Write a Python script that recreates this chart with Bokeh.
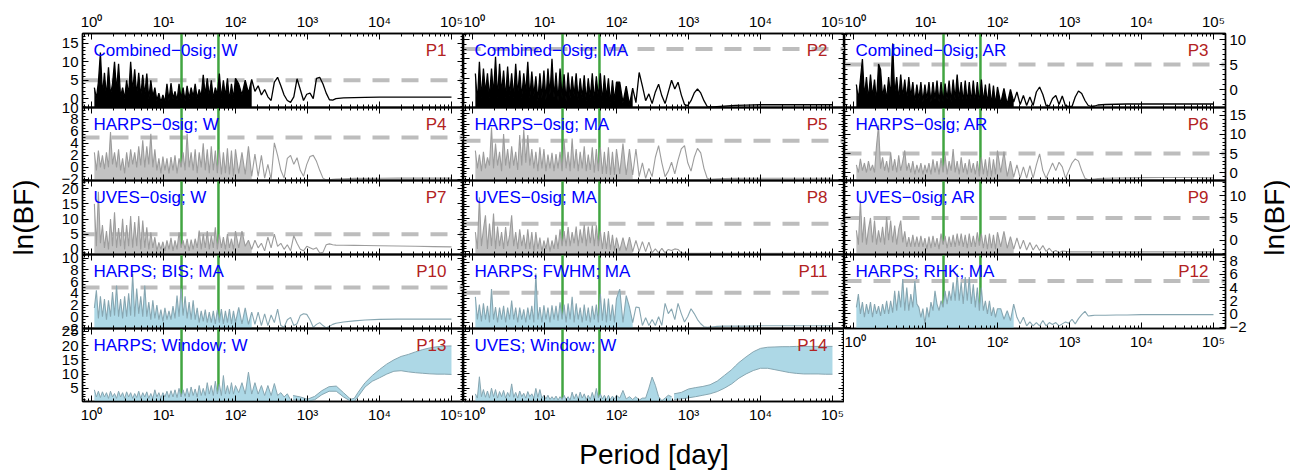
import numpy as np
from bokeh.plotting import figure
from bokeh.layouts import row, column
from bokeh.models import (Range1d, FixedTicker, LinearAxis, LogAxis, Span, Label,
                          CustomJSTickFormatter)
from bokeh.embed import file_html
from bokeh.resources import INLINE

FONT = "Liberation Sans"

# ------------------------------------------------------------------ data
period = [
    1.096, 1.169, 1.247, 1.330, 1.419, 1.514, 1.614, 1.722, 1.837, 1.959,
    2.089, 2.228, 2.377, 2.535, 2.704, 2.884, 3.076, 3.281, 3.499, 3.733,
    3.981, 4.246, 4.529, 4.831, 5.152, 5.495, 5.861, 6.252, 6.668, 7.112,
    7.586, 8.091, 8.630, 9.204, 9.817, 10.47, 11.17, 11.91, 12.71, 13.55,
    14.45, 15.42, 16.44, 17.54, 18.71, 19.95, 21.28, 22.70, 24.21, 25.82,
    27.54, 29.38, 31.33, 33.42, 35.65, 38.02, 40.55, 43.25, 46.13, 49.20,
    52.48, 55.98, 59.70, 63.68, 67.92, 72.44, 77.27, 82.41, 87.90, 93.76,
    100.0,
    110.9, 123.0, 136.5, 151.4, 167.9, 186.2, 206.5, 229.1, 254.1, 281.8,
    312.6, 346.7, 384.6, 426.6, 473.2, 524.8, 582.1, 645.7, 716.1, 794.3,
    881.0, 977.2, 1084, 1202, 1334, 1479, 1641, 1820, 2018, 2239,
    2483,
    3162, 4467, 6310, 10000, 17783, 31623, 56234, 100000,
]

lnbf_p1 = [
    3, 0, 4.5, 12.5, 1, 7, 0.5, 8.5, 1, 4,
    10, 2, 9.5, 0.5, 3, 0, 5, 1, 10, 2,
    8, 1, 7, 0.5, 6.5, 1, 6.8, 0, 5, 0.5,
    3, -0.5, 1.5, -1, 1, -1, 4, -0.5, 4.2, 0,
    2, -0.5, 4, 0, 3, -0.5, 3.5, 0, 3, 0.5,
    4, 0, 2.5, 0.5, 6.5, 1, 5.5, 0.5, 5, 0,
    3, 1, 6.8, 0, 5, 0.5, 5.5, -0.5, 4, 0,
    5.5,
    4, 1, 5, 1.5, 5.2, 2, 3.5, 1, 2.5, 0.5,
    -0.5, 4.5, 5.8, 3.5, 1, -0.5, -1, 0.5, 5.4, 2.5,
    -0.5, 1.2, 1.5, 0, 5.5, 5.8, 4, 1.5, -0.3, -0.4,
    0,
    0.2, 0.3, 0.35, 0.4, 0.4, 0.4, 0.4, 0.4,
]
lnbf_p2 = [
    2.5, -0.5, 3.7, 0, 3, 0.5, 2.5, 0, 3, 0.3,
    4.2, 0, 3.5, 0.5, 2.8, 0, 3.2, 0.2, 2.5, 0,
    3.5, 0.3, 2.8, 0, 2.5, 0.5, 3.7, 0, 2.7, 0.2,
    2.2, -0.3, 2.5, 0, 2.8, -0.2, 3, 0.3, 4, 0,
    2.6, -0.3, 3, 0, 2.4, -0.3, 2.6, 0, 2.2, 0.2,
    2.5, -0.2, 2, 0, 2.3, -0.3, 2, 0, 2.5, -0.3,
    2.2, 0, 2.5, -0.4, 2.3, 0, 2, -0.5, 1.8, -0.3,
    1.6,
    1.6, -0.5, 1.2, -0.7, 1.0, -0.5, 2.6, 1.2, -0.3, 0.4,
    -0.6, 0.6, 1.4, 0.2, -0.6, 0.6, 1.8, 0.9, 1.6, 0.3,
    -0.7, -0.8, -0.3, 0.5, 0.9, 0.5, -0.3, -0.9, -0.95, -0.95,
    -0.9,
    -0.85, -0.78, -0.75, -0.72, -0.72, -0.72, -0.72, -0.72,
]
lnbf_p3 = [
    1, -2, 2, 6.1, -1.5, 2.5, -2, 3, -1.5, 2,
    -2.5, 5.1, 4, -1.5, 1, -2, 2.5, -1.5, 9.2, -1,
    2.5, -2, 3, -1.5, 2, -2, 2.5, -1.5, 1.5, -2.5,
    1, -2, 1.5, -2.5, 1, -2, 1.5, -2.5, 1.5, -2,
    1.8, -2.5, 1.5, -2.5, 1.2, -2, 1.8, -2.5, 2, -2,
    3, -2, 1.5, -2.5, 1.8, -2.5, 1.5, -2.5, 1.8, -2.5,
    1.5, -2.8, 2, -2.5, 1, -2.8, 1.2, -3, 0.8, -3,
    0.5,
    -2.8, 0.2, -3, 0, -2.5, -0.5, -3, -1.2, -3.2, -1.5,
    -3.2, -0.5, 0.5, -1, -3.2, -3.3, -1.8, -1.2, -3.0, -1.3,
    -3.3, -3.4, -3.4, -1.5, -0.3, -0.8, -2.2, -3.2, -3.4, -3.3,
    -3.1,
    -3.0, -2.95, -2.9, -2.9, -2.9, -2.9, -2.9, -2.9,
]
lnbf_p4 = [
    2.5, -0.5, 2.8, 0, 2, -0.3, 2.5, 0, 5.9, 0.5,
    2.5, 0, 3, -0.5, 1.5, -1, 2.5, 0, 3, 0.5,
    2.5, 0, 3.5, 0.3, 4.5, 0, 3.5, 0.5, 5.6, 0,
    3, -0.5, 1.5, -1, 1.8, -0.5, 1.5, -1, 1.7, -0.5,
    2, -1, 1.5, 0, 2.5, -0.5, 5.6, 0, 2.5, -0.5,
    3, -1, 2.5, 0, 4, -0.5, 3, -1, 3.5, -0.5,
    2.8, -1, 3, -1.2, 2.5, -1, 3.2, -1.2, 2.8, -1.5,
    3,
    -1, 2.5, -1.2, 3.5, -1.5, 2.2, -1.5, 2, -1.8, 0.5,
    -2, 4.1, 2, -0.5, -1.8, 1.5, 2, 0.5, 1.6, -0.5,
    -1.5, 0.5, 1.8, 2.0, 1, -0.5, -1.8, -2.1, -2.1, -2.0,
    -1.95,
    -1.9, -1.85, -1.85, -1.82, -1.8, -1.8, -1.8, -1.8,
]
lnbf_p5 = [
    3.2, 0, 2.5, -0.5, 3, 0, 2, 0.5, 7.4, 0,
    4.5, 0.5, 3, -0.5, 6.2, 0.5, 3.5, 0, 4, 0.5,
    3, -0.3, 6, 0.5, 7, 1, 6, 0.5, 3.5, 0,
    3, -0.5, 3.8, 0, 3.5, -0.5, 2.5, 0, 2.8, -0.5,
    2.6, 0, 3, -0.5, 5, 0, 3, -0.5, 5.4, 0,
    3.5, -0.5, 3, 0, 4, -0.5, 2.5, -0.3, 3.8, -0.8,
    3.5, -0.5, 3.8, -1, 3, -1, 3.8, -1.2, 3, -1.2,
    3.5,
    -1, 4.5, -1.2, 3.5, -1.2, 3.5, -1.5, 1, -1.8, 0,
    -1.5, 2, 4.1, 1, -1.5, -0.5, 1.1, -1, 1.5, 3.5,
    4.1, 1, -0.5, 2, 3.6, 2.8, 0, -1.8, -2.0, -1.95,
    -1.9,
    -1.85, -1.82, -1.8, -1.8, -1.8, -1.8, -1.8, -1.8,
]
lnbf_p6 = [
    2, 0, 3.6, 0.5, 2.5, 0, 3, 0.5, 2, 0,
    7.1, 12.4, 1, 4, 0.5, 3, 0, 5.3, 0.5, 3.5,
    0, 4.5, 0.5, 3, 5.8, 0.5, 2.5, 0, 3, -0.5,
    2, 0, 2.5, -0.5, 2, 0, 2.5, -0.5, 3.5, 0,
    3, -0.5, 3.8, 0, 4.5, -0.5, 3, 0.5, 6.2, 0,
    3, -0.5, 4, 0, 2.5, -0.5, 3.5, 0, 2.5, -0.5,
    3, -1, 4, -0.5, 3.5, -1, 4, -1, 3.5, -0.5,
    5.8,
    0, 5.5, -1, 3, -1.2, 2, -1.5, 1.5, -1.5, 1.8,
    -1.5, 2, 4.9, 0.5, -1.5, 0.5, 2.5, 0.5, 2.7, 1.5,
    -1.5, 0.5, 2.5, 3.6, 3, 0.5, -1.5, -1.9, -1.8, -1.7,
    -1.6,
    -1.5, -1.45, -1.4, -1.35, -1.3, -1.3, -1.3, -1.4,
]
lnbf_p7 = [
    15, 1, 19, 2, 8, 0.5, 6, 0, 10, 1,
    12.2, 0.5, 7, 1, 10.1, 0, 8, 1, 11, 0.5,
    9, 1, 11, 0, 9.5, 0.5, 7.3, 0, 5.6, 0.5,
    4, -0.5, 2.3, 0, 2.5, -0.5, 3, 0, 3.8, -0.5,
    3, 0, 5.6, 0.5, 3, 0, 3.5, -0.5, 3.2, 0,
    3.5, 0.5, 6.2, 0, 5, 0.5, 6, 0, 4.5, 0.5,
    7.3, 0, 5, 0.5, 4, 0, 5, 0.5, 3.5, 0,
    6,
    0.5, 6, 1, 3, 0, 3, 0.5, 2, -0.5, 4,
    0.5, 5, 1, 2, 0, 1.5, -0.5, 4.5, 2, 0,
    -0.5, 1, 0.5, 0, 0.5, -1.2, -1.0, 1.5, 1.8, 1.5,
    1.4,
    1.35, 1.3, 1.25, 1.2, 1.1, 1.0, 0.9, 0.8,
]
lnbf_p8 = [
    3.5, 0.5, 9.7, 1, 4, 6.5, 0.5, 5, 1, 6.8,
    0.5, 4.5, 1, 3.5, 0.5, 4.4, 1, 3, 6.5, 1,
    3.5, 0.5, 4, 1, 3, 0.5, 4, 0.5, 3.5, 0,
    3.5, 0.5, 2.5, 0, 2, 0.5, 2.5, 0, 2, 0.5,
    3, 0.5, 4, 1, 3.7, 1, 4.4, 1, 3.5, 1.5,
    4.5, 1, 4, 1.5, 4.8, 1, 4.5, 1.5, 4.7, 1,
    4.7, 1, 3.7, 0.5, 3.5, 0.5, 3.7, 0.3, 3, 0.2,
    2.5,
    0.2, 2.5, 0.2, 2.6, 0, 2, 0, 1.8, 0, 1.7,
    -0.2, 0.5, -0.2, 0.6, -0.2, 0.4, 0.2, 0.5, 0.4, -0.2,
    -0.3, -0.3, -0.3, -0.3, -0.3, -0.3, -0.3, -0.3, -0.3, -0.3,
    -0.3,
    -0.3, -0.3, -0.3, -0.3, -0.3, -0.3, -0.3, -0.3,
]
lnbf_p9 = [
    2.2, -1, 8.9, -0.5, 5.2, -1, 2.5, 5, -0.5, 4.4,
    -1, 2.2, -0.5, 3, -1, 5.2, 0, 4.4, -0.5, 3.3,
    -1, 2.5, 4.4, -0.5, 2, -1.5, 0.7, -1.5, 1.2, -1.5,
    0.8, -1.5, 1, -1.5, 0.5, -2, 0.8, -1.8, 1, -1.5,
    0.5, -2, 1.5, -1, 1, -1.8, 0.8, -1.5, 1.2, -1.5,
    1.5, -1.2, 1.5, -1.5, 1.2, -1.8, 1.5, -1.5, 1, -1.5,
    1.8, -1.2, 1.5, -1.8, 1.2, -2, 1.5, -1.8, 1.2, -2,
    1.8,
    -1.5, 2.0, -1.8, 0.8, -2, 0.5, -2, 0, -2.2, -0.5,
    -2.2, -1, -2.3, -1.2, -2.5, -1.8, -2.7, -2.3, -2.8, -2.4,
    -2.5, -2.6, -2.6, -2.6, -2.6, -2.6, -2.6, -2.6, -2.6, -2.6,
    -2.6,
    -2.6, -2.6, -2.6, -2.6, -2.6, -2.6, -2.6, -2.6,
]
lnbf_p10 = [
    1.5, 4.5, -0.3, 3.5, 0, 3, -0.5, 2.8, 0, 4.2,
    0.2, 5.3, 0, 3, -0.3, 3.5, 0, 4, 0.2, 7.3,
    0, 4.8, 0.5, 3.5, 0, 5.3, 0, 2.5, -0.5, 2.8,
    -0.3, 2, -0.5, 1.2, -0.8, 1.5, -0.5, 1, -0.5, 1.8,
    -0.3, 3.6, 0, 4.8, 0.2, 3.5, -0.3, 2.5, -0.5, 2.8,
    -0.5, 1.5, -1, 1, -0.8, 1.2, -1, 0.8, -1, 1,
    -1.2, 1.2, -1, 1.3, -1.2, 1, -1, 1.3, -1.2, 1,
    -1,
    1.6, -1.2, 1.5, -1.3, 0.8, -1.3, 0.8, -1.5, 0.5, -1.5,
    0.3, -1, 1.3, -1.5, -1.8, -0.5, -0.1, -1.5, -1.2, 0.2,
    0.5, 0.4, -0.5, -1.8, -1.3, -1.0, -1.5, -1.9, -1.6, -1.3,
    -1.1,
    -0.9, -0.7, -0.55, -0.45, -0.4, -0.4, -0.4, -0.4,
]
lnbf_p11 = [
    4.3, 0.5, 3, 0.2, 3.2, 0.5, 2.8, 0, 5.6, 0.5,
    2.6, 0, 2.5, 0.5, 2.8, 0, 2.5, 0.5, 3.7, 0.5,
    2.5, 0, 2.5, 0.5, 2.2, 0, 2.5, 0.5, 2.8, 0,
    8.2, 0.5, 2.6, 0, 2.9, 0.5, 2.5, 0, 2.9, 0.5,
    2.8, 0.3, 3.4, 0.5, 3, 0, 3.2, 0.5, 4.3, 0,
    3.2, 0.5, 2.5, 0, 3, 0.3, 2.5, 0, 2.8, 0.5,
    3, 0, 4.8, 0.3, 4, 0, 4, 0.3, 3, 0,
    4,
    5.6, 0, 4.5, 2.6, 0, 2.6, 2.5, -0.5, 0.8, -0.5,
    0.5, -0.5, 1, -0.5, 3.2, 1.5, 2.3, 0.5, 3.2, 1.5,
    0.1, 1.0, 2.3, 1.5, 0.5, -0.2, -0.7, -0.8, -0.75, -0.7,
    -0.65,
    -0.6, -0.6, -0.6, -0.55, -0.55, -0.55, -0.55, -0.55,
]
lnbf_p12 = [
    1, 3, 0, 1.8, -0.5, 1.5, 0, 1.8, -0.5, 1.5,
    0, 1.2, -0.3, 1.5, 0, 2, 0, 2, 0.2, 3.5,
    0.5, 3.5, 1, 5.3, 0.5, 4, 0.5, 3, 1, 5,
    1.5, 1, -0.5, 0.8, -1.5, 1, -0.5, 1.8, 0.5, 3.5,
    1.5, 0.5, 2, 1, 3.5, 1.5, 3.5, 2, 4.8, 2,
    6.1, 2, 4.8, 1.5, 5.6, 2, 5.6, 1.5, 4.5, 1,
    4, 0.5, 4, 0.5, 2, 0, 2, -0.3, 1, -0.5,
    0.8,
    0.8, -0.8, 0.5, -1.0, 1.5, -0.5, -1.5, -0.5, -1.8, -1.2,
    -1.8, -1.3, -1.8, -1.0, -1.8, -1.3, -1.6, -1.3, -1.8, -1.5,
    -1.2, -1.4, -0.8, -1.5, -0.7, -0.1, 0.4, -0.3, -0.25, -0.2,
    -0.2,
    -0.2, -0.15, -0.15, -0.1, -0.1, -0.1, -0.1, -0.1,
]
# window functions: spiky part (first 88 periods) + dense band at long periods
lnbf_p13 = [
    4.5, 2, 4, 1.8, 3.8, 2, 3.5, 1.5, 4, 2,
    3.2, 1.5, 4, 2, 3.5, 1.5, 3.8, 2, 3.5, 1.5,
    3.2, 1.8, 4, 1.5, 3.5, 2, 3.8, 1.5, 3.2, 1.5,
    4.5, 2, 3.5, 1.5, 3.5, 2, 4, 1.8, 4.2, 2,
    4.5, 1.8, 5, 2, 4.5, 2.2, 5, 2, 5.5, 2.5,
    4.8, 2, 6, 2.5, 5, 2.5, 7, 3, 6, 2.5,
    7.5, 3, 6.5, 2.5, 9.5, 3, 6, 3, 7, 3,
    6,
    3.5, 7, 3, 10.7, 3, 7, 3, 6, 2.5, 6,
    2.5, 6.7, 2.5, 3.5, 2, 3.1, 1,
]
lnbf_p14 = [
    3, 1.5, 9, 2, 4.5, 1.8, 4, 1.5, 5, 2,
    4.5, 1.5, 3.8, 2, 4.2, 1.5, 3.5, 2, 6.5, 1.8,
    3.5, 1.5, 4, 2, 3.2, 1.5, 3.8, 2, 3, 1.5,
    4.9, 1.8, 4.5, 1.5, 2.5, 1.2, 2.5, 1, 2, 1,
    2.2, 0.8, 2, 1, 2.5, 1, 2, 0.8, 3.6, 1.2,
    3, 1, 3.6, 1.5, 3, 1, 2.5, 1, 3.5, 1.2,
    4.9, 1.5, 3, 1.2, 2.5, 1, 2.5, 1, 2.2, 1.2,
    2.5,
    1.5, 4.2, 1.2, 2, 1, 2, 0.8, 1.5, 1.5, 5,
    8.9, 6, 2, 0.6, 1.5, 2.5, 2,
]
band_period = [631.0, 794.3, 1000, 1259, 1585, 1995, 2512, 3162, 3981, 4467,
               5012, 6310, 7943, 10000, 12589, 15849, 19953, 25119, 31623, 39811,
               50119, 63096, 79433, 100000]
band_lo_p13 = [1.0, 0.8, 0.5, 1.0, 2.8, 4.0, 4.0, 2.0, 0.5, 0.5,
               2.0, 5.5, 7.5, 8.7, 10.0, 11.0, 11.2, 10.8, 10.5, 10.3,
               10.1, 10.0, 10.0, 9.9]
band_hi_p13 = [2.5, 2.0, 1.2, 2.2, 4.2, 5.6, 5.8, 3.5, 1.2, 1.5,
               3.5, 7.0, 9.5, 11.6, 13.5, 15.0, 16.2, 16.9, 17.8, 18.6,
               19.2, 19.6, 19.8, 19.9]
band_lo_p14 = [1.0, 1.2, 1.6, 2.0, 2.5, 3.0, 3.8, 5.0, 6.5, 7.5,
               8.5, 10.0, 11.2, 12.0, 12.0, 11.5, 11.0, 10.5, 10.2, 10.0,
               10.0, 10.0, 9.9, 9.9]
band_hi_p14 = [3.0, 3.5, 4.7, 5.2, 5.6, 6.2, 7.5, 9.5, 11.5, 12.8,
               14.0, 16.0, 17.8, 19.0, 19.4, 19.5, 19.6, 19.6, 19.7, 19.7,
               19.7, 19.7, 19.7, 19.7]

signal_periods = [17.8, 58.0]
threshold = 5
x_ticks = [1, 10, 100, 1000, 10000, 100000]
x_tick_labels = ["10\u2070", "10\u00b9", "10\u00b2", "10\u00b3", "10\u2074", "10\u2075"]

# name, tag, values, y-limits, y major ticks, y minor step, colour kind, band
specs = [
    ("Combined\u22120sig; W", "P1", lnbf_p1, (-2.4, 17.7), [0, 5, 10, 15], 1, "black", None),
    ("Combined\u22120sig; MA", "P2", lnbf_p2, (-1.0, 6.6), [0, 2, 4, 6], 0.5, "black", None),
    ("Combined\u22120sig; AR", "P3", lnbf_p3, (-3.6, 11.2), [0, 5, 10], 1, "black", None),
    ("HARPS\u22120sig; W", "P4", lnbf_p4, (-2.2, 10.0), [-2, 0, 2, 4, 6, 8, 10], 0.5, "gray", None),
    ("HARPS\u22120sig; MA", "P5", lnbf_p5, (-2.2, 11.0), [-2, 0, 2, 4, 6, 8, 10], 0.5, "gray", None),
    ("HARPS\u22120sig; AR", "P6", lnbf_p6, (-2.1, 17.1), [0, 5, 10, 15], 1, "gray", None),
    ("UVES\u22120sig; W", "P7", lnbf_p7, (-1.7, 22.7), [0, 5, 10, 15, 20], 1, "gray", None),
    ("UVES\u22120sig; MA", "P8", lnbf_p8, (-0.5, 12.7), [0, 2, 4, 6, 8, 10, 12], 0.5, "gray", None),
    ("UVES\u22120sig; AR", "P9", lnbf_p9, (-3.2, 13.4), [0, 5, 10], 1, "gray", None),
    ("HARPS; BIS; MA", "P10", lnbf_p10, (-2.0, 10.6), [-2, 0, 2, 4, 6, 8, 10], 0.5, "blue", None),
    ("HARPS; FWHM; MA", "P11", lnbf_p11, (-1.0, 11.4), [0, 2, 4, 6, 8, 10], 0.5, "blue", None),
    ("HARPS; RHK; MA", "P12", lnbf_p12, (-2.2, 9.0), [-2, 0, 2, 4, 6, 8], 0.5, "blue", None),
    ("HARPS; Window; W", "P13", lnbf_p13, (0.4, 26.0), [5, 10, 15, 20, 25], 1, "window",
     (band_lo_p13, band_hi_p13)),
    ("UVES; Window; W", "P14", lnbf_p14, (0.3, 26.0), [5, 10, 15, 20, 25], 1, "window",
     (band_lo_p14, band_hi_p14)),
]

STYLE = {
    "black": ("black", "black", 1.3),
    "gray": ("#c2c2c2", "#9c9c9c", 1.1),
    "blue": ("#add8e6", "#87a6b1", 1.1),
    "window": ("#add8e6", "#87a6b1", 1.0),
}

FRAME_W = 381
FRAME_H = [74, 73, 74, 74, 73]
X_LO, X_HI = 0.75, 146900.0
PAD = 9

x_minor = [m * d for d in [0.1, 1, 10, 100, 1000, 10000] for m in range(2, 10)
           if X_LO <= m * d <= X_HI]

x_fmt_code = """
for (let i = 0; i < tick_vals.length; i++) {
  if (Math.abs(Math.log10(tick) - Math.log10(tick_vals[i])) < 1e-6) { return tick_text[i]; }
}
return '';
"""
y_fmt_code = "return tick < 0 ? '\u2212' + String(Math.abs(tick)) : String(tick);"


def style_axis(ax, show, ticker, formatter):
    ax.ticker = ticker
    ax.formatter = formatter
    ax.axis_line_color = "black"
    ax.axis_line_width = 1.4
    ax.major_tick_line_color = "black"
    ax.minor_tick_line_color = "black"
    ax.major_tick_line_width = 1
    ax.minor_tick_line_width = 1
    ax.major_tick_in = 6
    ax.major_tick_out = 0
    ax.minor_tick_in = 3
    ax.minor_tick_out = 0
    ax.major_label_text_font = FONT
    if show:
        ax.major_label_text_color = "black"
        ax.major_label_text_font_size = "15px"
        ax.major_label_standoff = 4
    else:
        ax.major_label_text_color = None
        ax.major_label_text_font_size = "0px"
        ax.major_label_standoff = 0


def style_axis_label(ax, text, standoff):
    ax.axis_label = text
    ax.axis_label_text_font = FONT
    ax.axis_label_text_font_size = "28px"
    ax.axis_label_text_font_style = "normal"
    ax.axis_label_text_color = "black"
    ax.axis_label_standoff = standoff


def x_formatter():
    return CustomJSTickFormatter(args=dict(tick_vals=x_ticks, tick_text=x_tick_labels),
                                 code=x_fmt_code)


figs = {}
for i, (name, tag, vals, ylim, yt, ystep, kind, band) in enumerate(specs):
    r, c = divmod(i, 3)
    fh = FRAME_H[r]
    bottom_labels = (r == 4) or (r == 3 and c == 2)
    base_top = 33 if r == 0 else 0
    base_bottom = 71 if r == 4 else (24 if bottom_labels else 0)
    p = figure(frame_width=FRAME_W, frame_height=fh,
               x_axis_type="log", x_range=Range1d(X_LO, X_HI),
               y_range=Range1d(*ylim),
               toolbar_location=None, output_backend="svg",
               min_border=0,
               min_border_left=82 if c == 0 else 0,
               min_border_right=24 if c == 2 else 0,
               min_border_top=base_top,
               min_border_bottom=base_bottom,
               background_fill_color=None, border_fill_color=None)
    # let edge tick labels spill over neighbouring panels (as in the reference)
    pad_top = PAD if r > 0 else 0
    pad_bottom = PAD if base_bottom == 0 else 0
    try:
        p.margin = (-pad_top, 0, -pad_bottom, 0)
        p.min_border_top = base_top + pad_top
        p.min_border_bottom = base_bottom + pad_bottom
    except Exception:
        pass
    p.outline_line_color = "black"
    p.outline_line_width = 1.4
    p.xgrid.visible = False
    p.ygrid.visible = False

    y_minor = [float(v) for v in np.arange(np.floor(ylim[0]), np.ceil(ylim[1]) + ystep, ystep)]
    ax_bottom = p.below[0]
    ax_left = p.left[0]
    ax_top = LogAxis()
    ax_right = LinearAxis()
    p.add_layout(ax_top, "above")
    p.add_layout(ax_right, "right")

    style_axis(ax_bottom, bottom_labels, FixedTicker(ticks=x_ticks, minor_ticks=x_minor), x_formatter())
    style_axis(ax_top, r == 0, FixedTicker(ticks=x_ticks, minor_ticks=x_minor), x_formatter())
    style_axis(ax_left, c == 0, FixedTicker(ticks=yt, minor_ticks=y_minor),
               CustomJSTickFormatter(code=y_fmt_code))
    style_axis(ax_right, c == 2, FixedTicker(ticks=yt, minor_ticks=y_minor),
               CustomJSTickFormatter(code=y_fmt_code))

    if tag == "P7":
        style_axis_label(ax_left, "ln(BF)", 20)
    if tag == "P14":
        style_axis_label(ax_bottom, "Period [day]", 13)

    # reference lines
    if kind != "window":
        p.add_layout(Span(location=threshold, dimension="width", line_color="#bdbdbd",
                          line_width=4, line_dash="17 12", level="underlay"))
    for sp in signal_periods:
        p.add_layout(Span(location=sp, dimension="height", line_color="#41a541",
                          line_width=2.5, level="underlay"))

    fill_c, line_c, lw = STYLE[kind]
    n = len(vals)
    xs = period[:n]
    n_fill = n if kind == "window" else 76
    p.varea(x=xs[:n_fill], y1=ylim[0], y2=vals[:n_fill], fill_color=fill_c)
    p.line(xs, vals, line_color=line_c, line_width=lw)
    if band is not None:
        lo, hi = band
        p.varea(x=band_period, y1=lo, y2=hi, fill_color=fill_c)
        p.line(band_period, lo, line_color=line_c, line_width=1)
        p.line(band_period, hi, line_color=line_c, line_width=1)

    p.add_layout(Label(x=11, y=fh - 7, x_units="screen", y_units="screen", text=name,
                       text_font=FONT, text_font_size="17px", text_color="blue",
                       text_baseline="top", text_align="left"))
    p.add_layout(Label(x=FRAME_W - 17, y=fh - 7, x_units="screen", y_units="screen", text=tag,
                       text_font=FONT, text_font_size="17px", text_color="#b22222",
                       text_baseline="top", text_align="right"))
    figs[(r, c)] = p

# narrow holder on the far right that carries the right-hand "ln(BF)" label
holder = figure(frame_width=1, frame_height=sum(FRAME_H), x_range=Range1d(0, 1),
                y_range=Range1d(0, 1), toolbar_location=None, output_backend="svg",
                min_border=0, min_border_left=40, min_border_right=0,
                min_border_top=33, min_border_bottom=0, x_axis_location=None,
                background_fill_color=None, border_fill_color=None)
holder.outline_line_color = None
holder.xgrid.visible = False
holder.ygrid.visible = False
hax = holder.left[0]
hax.ticker = FixedTicker(ticks=[])
hax.axis_line_color = None
hax.major_tick_line_color = None
hax.minor_tick_line_color = None
hax.major_label_text_color = None
hax.major_label_text_font_size = "0px"
hax.major_label_standoff = 0
hax.major_tick_out = 0
hax.minor_tick_out = 0
style_axis_label(hax, "ln(BF)", 0)

col_a = column([figs[(r, 0)] for r in range(5)], spacing=0)
col_b = column([figs[(r, 1)] for r in range(5)], spacing=0)
col_c = column([figs[(r, 2)] for r in range(4)], spacing=0)
layout = row([col_a, col_b, col_c, holder], spacing=0)

with open("out.html", "w", encoding="utf-8") as f:
    f.write(file_html(layout, INLINE))
